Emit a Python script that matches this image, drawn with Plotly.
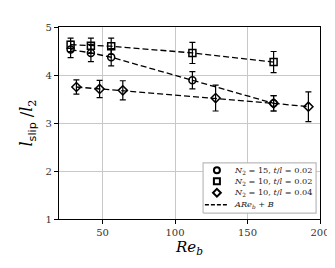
import plotly.graph_objects as go

# Data
re_circle = [28, 42, 56, 112, 168]
l_circle = [4.53, 4.46, 4.37, 3.89, 3.41]
e_circle = [0.17, 0.18, 0.18, 0.18, 0.16]

re_square = [28, 42, 56, 112, 168]
l_square = [4.63, 4.61, 4.60, 4.46, 4.27]
e_square = [0.14, 0.16, 0.17, 0.22, 0.22]

re_diamond = [32, 48, 64, 128, 168, 192]
l_diamond = [3.75, 3.71, 3.68, 3.52, 3.41, 3.34]
e_diamond = [0.15, 0.18, 0.20, 0.27, 0.16, 0.31]

labels = [
    "<i>N</i><sub>2</sub> = 15, <i>t</i>/<i>l</i> = 0.02",
    "<i>N</i><sub>2</sub> = 10, <i>t</i>/<i>l</i> = 0.02",
    "<i>N</i><sub>2</sub> = 10, <i>t</i>/<i>l</i> = 0.04",
]
fit_label = "<i>ARe</i><sub><i>b</i></sub> + <i>B</i>"

symbols = ["circle-open", "square-open", "diamond-open"]
series = [
    (re_circle, l_circle, e_circle),
    (re_square, l_square, e_square),
    (re_diamond, l_diamond, e_diamond),
]

# legend layout (fractions of the plot area)
leg_x0, leg_x1, leg_y0, leg_y1 = 0.552, 0.985, 0.031, 0.292
leg_rows = [0.254, 0.196, 0.137, 0.074]
leg_sym_x = 0.605
leg_line_x = [0.559, 0.650]
leg_text_x = 0.663

DASH = "6px,3px"
fig = go.Figure()
for (x, y, e) in series:
    fig.add_trace(go.Scatter(
        x=x, y=y, mode="lines", showlegend=False,
        line=dict(color="black", dash=DASH, width=1.3),
    ))
for (x, y, e), sym in zip(series, symbols):
    fig.add_trace(go.Scatter(
        x=x, y=y, mode="markers", showlegend=False,
        marker=dict(symbol=sym, size=7, color="black", line=dict(width=1.5, color="black")),
        error_y=dict(type="data", array=e, visible=True, color="black", thickness=1.2, width=3),
    ))

# custom compact legend on an overlay axis
fig.add_trace(go.Scatter(
    x=[leg_x0, leg_x1, leg_x1, leg_x0, leg_x0], y=[leg_y0, leg_y0, leg_y1, leg_y1, leg_y0],
    xaxis="x2", yaxis="y2", mode="lines", fill="toself", fillcolor="white",
    line=dict(color="#bbbbbb", width=1.2), showlegend=False, hoverinfo="skip",
))
for sym, ry in zip(symbols, leg_rows[:3]):
    fig.add_trace(go.Scatter(
        x=[leg_sym_x], y=[ry], xaxis="x2", yaxis="y2", mode="markers", showlegend=False,
        marker=dict(symbol=sym, size=6, color="black", line=dict(width=2, color="black")),
        cliponaxis=False, hoverinfo="skip",
    ))
fig.add_trace(go.Scatter(
    x=leg_line_x, y=[leg_rows[3]] * 2, xaxis="x2", yaxis="y2", mode="lines", showlegend=False,
    line=dict(color="black", dash="4px,2px", width=1.5), hoverinfo="skip",
))
for txt, ry in zip(labels + [fit_label], leg_rows):
    fig.add_annotation(
        x=leg_text_x, y=ry, xref="x2", yref="y2", text=txt, showarrow=False,
        xanchor="left", yanchor="middle", font=dict(family="DejaVu Serif", size=8.2, color="#222222"),
    )

serif = "DejaVu Serif"
fig.update_layout(
    width=335, height=268,
    margin=dict(l=51, r=23, t=19, b=57),
    paper_bgcolor="white", plot_bgcolor="white",
    font=dict(family=serif, color="black", size=10),
    showlegend=False,
    xaxis=dict(
        range=[20, 200], tickvals=[50, 100, 150, 200],
        showgrid=True, gridcolor="#c8c8c8", gridwidth=1,
        showline=True, linecolor="black", linewidth=1.2, mirror=True,
        ticks="outside", ticklen=4, tickcolor="black",
        tickfont=dict(family=serif, size=10, color="#333333"),
        title=dict(text="<i>Re</i><sub><i>b</i></sub>", font=dict(family=serif, size=15), standoff=4),
        zeroline=False,
    ),
    yaxis=dict(
        range=[1, 5], tickvals=[1, 2, 3, 4, 5],
        showgrid=True, gridcolor="#c8c8c8", gridwidth=1,
        showline=True, linecolor="black", linewidth=1.2, mirror=True,
        ticks="outside", ticklen=4, tickcolor="black",
        tickfont=dict(family=serif, size=10, color="#333333"),
        title=dict(text="<i>l</i><sub><span style='font-family:DejaVu Sans'>slip</span></sub> /<i>l</i><sub>2</sub>",
                   font=dict(family=serif, size=16), standoff=8),
        zeroline=False,
    ),
    xaxis2=dict(overlaying="x", range=[0, 1], visible=False, fixedrange=True),
    yaxis2=dict(overlaying="y", range=[0, 1], visible=False, fixedrange=True),
)

fig.write_html("out.html")
